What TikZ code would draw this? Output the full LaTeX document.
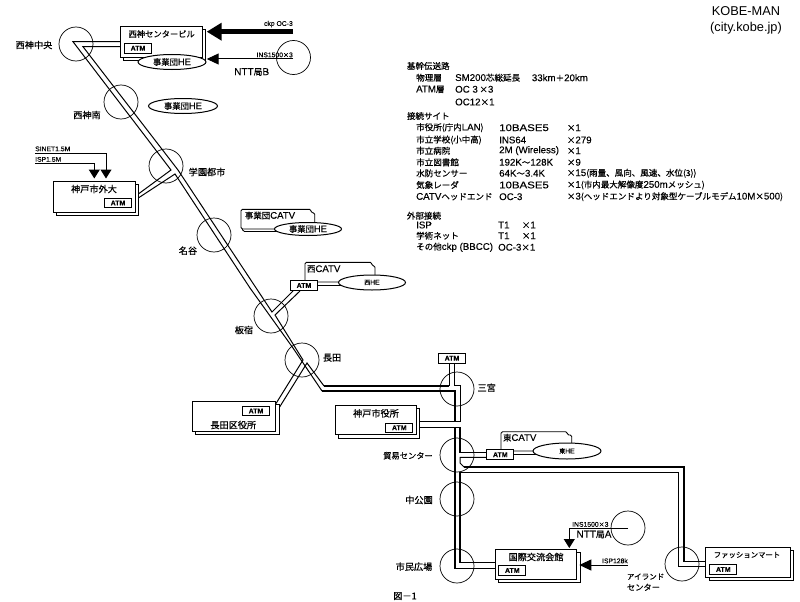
\documentclass[tikz,border=0pt]{standalone}
\usepackage{fontspec}
\setmainfont[FakeBold=0.2]{Liberation Sans}
\newfontfamily\titlefont{Liberation Sans}
\newfontfamily\jpfont[Scale=0.88,FakeBold=0.45]{Noto Sans CJK JP}
\newcommand{\J}[1]{{\jpfont #1}}
\newcommand{\W}[1]{{\addfontfeature{FakeStretch=1.18}#1}}
\usetikzlibrary{arrows.meta,shadows,shapes.geometric}
\tikzset{
  hub/.style={circle,draw,line width=0.7pt,minimum size=34pt,inner sep=0pt},
  sitebox/.style={draw,line width=1pt,fill=white,inner sep=0pt,
    copy shadow={shadow xshift=3pt,shadow yshift=-3pt,fill=white,draw=black,line width=0.9pt}},
  atmbox/.style={draw,line width=1pt,fill=white,inner sep=0pt,minimum width=27pt,minimum height=9.5pt,
    font=\fontsize{7}{8}\selectfont\bfseries},
  headend/.style={ellipse,draw,line width=1pt,fill=white,inner sep=0pt},
  label/.style={inner sep=0pt,font=\fontsize{10.4}{11}\selectfont},
  kana/.style={inner sep=0pt,font=\fontsize{9.4}{10}\selectfont},
  tiny/.style={inner sep=0pt,font=\fontsize{6.8}{7}\selectfont},
  tabtext/.style={inner sep=0pt,font=\fontsize{9.6}{11}\selectfont},
  trunk/.style={line width=1pt,line join=miter},
  heavy/.style={line width=1.5pt,line join=miter},
  feed/.style={line width=1pt},
  catv/.style={draw,line width=0.9pt,fill=white,rounded corners=1.5pt},
  info/.style={anchor=west,inner sep=0pt,font=\fontsize{9.7}{10}\selectfont},
  bighead/.style={-{Triangle[length=15pt,width=17pt]},line width=5pt},
  midhead/.style={-{Triangle[length=12pt,width=11pt]},line width=1pt},
  downhead/.style={-{Triangle[length=9pt,width=11pt]},line width=1pt}
}
\begin{document}
\begin{tikzpicture}[x=1pt,y=-1pt]
\useasboundingbox (0,0) rectangle (800,602);

% Ring stations
\node[hub] (nishikobe) at (76,44) {};
\node[hub] (seishinminami) at (121,102) {};
\node[hub] (gakuen) at (166,166) {};
\node[hub] (myodani) at (214,235) {};
\node[hub] (itayado) at (271,316) {};
\node[hub] (nagata) at (302,360) {};
\node[hub] (sannomiya) at (457,389) {};
\node[hub] (boeki) at (457,455) {};
\node[hub] (chuko) at (457,499) {};
\node[hub] (shimin) at (457,566) {};
\node[hub] (island) at (682,564) {};
\node[hub] (nttb) at (293.5,57.5) {};
\node[hub] (ntta) at (628,528) {};

% Bend points of the backbone and its branches
\coordinate (la) at (120,41.7);  \coordinate (lb) at (73,41.7);
\coordinate (lc) at (171,170);   \coordinate (ld) at (138.3,194);
\coordinate (le) at (138.3,198); \coordinate (lf) at (175,174);
\coordinate (lg) at (250,288);   \coordinate (lh) at (293,348);
\coordinate (li) at (322,391);   \coordinate (lj) at (455,391);
\coordinate (lk) at (455,421.7);
\coordinate (ra) at (120,46.7);  \coordinate (rb) at (83,46.7);
\coordinate (rc) at (178,170);   \coordinate (rd) at (272,312);
\coordinate (re) at (293,291);   \coordinate (rf) at (300,291);
\coordinate (rg) at (275,315);   \coordinate (rh) at (303,360);
\coordinate (ri) at (276,403.5); \coordinate (rj) at (279,408);
\coordinate (rk) at (307,363);   \coordinate (rl) at (324,386);
\coordinate (rm) at (449,386);   \coordinate (rn) at (449,363);
\coordinate (sa) at (454,363);   \coordinate (sb) at (454,385);
\coordinate (sc) at (460,385);   \coordinate (sd) at (460,421.7);
\coordinate (se) at (420,421.7);
\coordinate (ta) at (420,427.3); \coordinate (tb) at (460,427.3);
\coordinate (tc) at (460,452.3); \coordinate (td) at (487,452.3);
\coordinate (te) at (487,457.3); \coordinate (tf) at (460,457.3);
\coordinate (tg) at (460,463);   \coordinate (th) at (464,467);
\coordinate (ti) at (684,467);   \coordinate (tj) at (684,561.7);
\coordinate (tk) at (706,561.7);
\coordinate (ua) at (706,566.7); \coordinate (ub) at (678.3,566.7);
\coordinate (uc) at (678.3,472.3); \coordinate (ud) at (460,472.3);
\coordinate (ue) at (460,562.7); \coordinate (uf) at (495.7,562.7);
\coordinate (va) at (455,427.3); \coordinate (vb) at (455,568.3);
\coordinate (vc) at (495.7,568.3);
\coordinate (wa) at (317.3,281.7); \coordinate (wb) at (342,281.7);
\coordinate (wc) at (317.3,285.7); \coordinate (wd) at (342,285.7);
\coordinate (xa) at (514,454.3);   \coordinate (xb) at (536,454.3);

% Backbone
\draw[trunk] (la) -- (lb) -- (lc) -- (ld);
\draw[trunk] (le) -- (lf) -- (lg) -- (lh) -- (li);
\draw[heavy] (li) -- (lj) -- (lk);
\draw[trunk] (ra) -- (rb) -- (rc) -- (rd) -- (re);
\draw[trunk] (rf) -- (rg) -- (rh) -- (ri);
\draw[trunk] (rj) -- (rk) -- (rl);
\draw[heavy] (rl) -- (rm);
\draw[trunk] (rm) -- (rn);
\draw[trunk] (sa) -- (sb) -- (sc) -- (sd) -- (se);
\draw[heavy] (ta) -- (tb) -- (tc) -- (td);
\draw[trunk] (te) -- (tf) -- (tg) -- (th);
\draw[heavy] (th) -- (ti) -- (tj) -- (tk);
\draw[heavy] (ua) -- (ub) -- (uc) -- (ud) -- (ue) -- (uf);
\draw[heavy] (va) -- (vb) -- (vc);
\draw[feed] (wa) -- (wb);
\draw[feed] (wc) -- (wd);
\draw[feed] (xa) -- (xb);

% Cable television tabs, drawn behind their head-ends
\draw[line width=0.8pt,rounded corners=1.5pt] (242,228) -- (243,231.5) -- (285,231.5);
\draw[catv] (241,209.3) -- (311,209.3) -- (311,212.7) -- (314.7,212.7) -- (314.7,229) -- (241,229) -- cycle;
\draw[catv] (305,262.3) -- (371.7,262.3) -- (371.7,265.7) -- (375,265.7) -- (375,282) -- (305,282) -- cycle;
\draw[catv] (501,431.7) -- (567.3,431.7) -- (567.3,435) -- (571.7,435) -- (571.7,451) -- (501,451) -- cycle;
\node[tabtext] (tabjig) at (270,215.5) {\J{事業団}CATV};
\node[tabtext] (tabwest) at (323.7,269) {\J{西}CATV};
\node[tabtext] (tabeast) at (519.7,437.7) {\J{東}CATV};

% Sites
\node[sitebox,minimum width=82pt,minimum height=31.3pt] (center) at (161.7,42.3) {};
\node[sitebox,minimum width=82pt,minimum height=31pt] (gaidai) at (94,197.2) {};
\node[sitebox,minimum width=83.3pt,minimum height=30pt] (kuyakusho) at (234.3,416.7) {};
\node[sitebox,minimum width=81pt,minimum height=29.3pt] (shiyakusho) at (376.2,420.3) {};
\node[sitebox,minimum width=81.3pt,minimum height=30pt] (kokusai) at (536.3,564) {};
\node[sitebox,minimum width=84.7pt,minimum height=30pt] (fashion) at (748.3,562.7) {};

\node[kana] (t1) at (161.7,34) {\J{西神センタービル}};
\node[label] (t2) at (94,189) {\J{神戸市外大}};
\node[label] (t3) at (233.3,425) {\J{長田区役所}};
\node[label] (t4) at (376,413.3) {\J{神戸市役所}};
\node[label] (t5) at (536,557) {\J{国際交流会館}};
\node[kana,font=\fontsize{8.4}{9}\selectfont] (t6) at (747,555) {\J{ファッションマート}};

% ATM switches
\node[atmbox] (a1) at (138,48.3) {ATM};
\node[atmbox] (a2) at (118,203) {ATM};
\node[atmbox] (a3) at (256,411) {ATM};
\node[atmbox] (a4) at (399.3,427.8) {ATM};
\node[atmbox] (a5) at (512.3,570.5) {ATM};
\node[atmbox] (a6) at (723.3,569.5) {ATM};
\node[atmbox] (a7) at (452,358.3) {ATM};
\node[atmbox] (a8) at (304,285.5) {ATM};
\node[atmbox] (a9) at (500.3,454.7) {ATM};

% Head-ends
\node[headend,minimum width=68pt,minimum height=15pt,font=\fontsize{9.4}{10}\selectfont] (he1) at (172,62) {\J{事業団}HE};
\node[headend,minimum width=69pt,minimum height=15pt,font=\fontsize{9.4}{10}\selectfont] (he2) at (183,106) {\J{事業団}HE};
\node[headend,minimum width=67pt,minimum height=13pt,font=\fontsize{9.4}{10}\selectfont] (he3) at (308,229) {\J{事業団}HE};
\node[headend,minimum width=67pt,minimum height=15pt,font=\fontsize{6.8}{7}\selectfont] (he4) at (372,282.5) {\J{西}HE};
\node[headend,minimum width=68pt,minimum height=16pt,font=\fontsize{6.8}{7}\selectfont] (he5) at (567,451) {\J{東}HE};

% Outside circuits
\coordinate (ckp) at (293,31.7);
\coordinate (ckptip) at (206.7,31.7);
\draw[bighead] (ckp) -- (ckptip);
\coordinate (insb) at (293,59);
\coordinate (insbtip) at (206.7,59);
\draw[midhead] (insb) -- (insbtip);
\coordinate (sinet) at (35,153);
\coordinate (sinetbend) at (106,153);
\coordinate (sinettip) at (106,178.5);
\draw[downhead] (sinet) -- (sinetbend) -- (sinettip);
\coordinate (isp) at (35,163.5);
\coordinate (ispbend) at (94.3,163.5);
\coordinate (isptip) at (94.3,178.5);
\draw[downhead] (isp) -- (ispbend) -- (isptip);
\coordinate (insa) at (628,528.3);
\coordinate (insabend) at (569.3,528.3);
\coordinate (insatip) at (569.3,548);
\draw[downhead] (insa) -- (insabend) -- (insatip);
\coordinate (ispk) at (628,565);
\coordinate (ispktip) at (579.3,565);
\draw[midhead] (ispk) -- (ispktip);

\node[tiny,anchor=south east] (lckp) at (293,27.5) {ckp OC-3};
\node[tiny,anchor=south east] (linsb) at (293,57.5) {INS1500\J{×}3};
\node[tiny,anchor=south west] (lsinet) at (35,151.5) {SINET1.5M};
\node[tiny,anchor=south west] (lisp) at (35,162) {ISP1.5M};
\node[tiny,anchor=south west] (linsa) at (572,527) {INS1500\J{×}3};
\node[tiny,anchor=south east] (lispk) at (628,563.5) {ISP128k};

% Place names
\node[label] (n1) at (34,45) {\J{西神中央}};
\node[label] (n2) at (87,115) {\J{西神南}};
\node[label] (n3) at (207,172) {\J{学園都市}};
\node[label] (n4) at (188,250.7) {\J{名谷}};
\node[label] (n5) at (244,330) {\J{板宿}};
\node[label] (n6) at (332,357.7) {\J{長田}};
\node[label] (n7) at (486.7,387.7) {\J{三宮}};
\node[kana] (n8) at (408,455.7) {\J{貿易センター}};
\node[label] (n9) at (419,500) {\J{中公園}};
\node[label] (n10) at (414,566.7) {\J{市民広場}};
\node[kana,anchor=west,font=\fontsize{8.6}{9}\selectfont] (n11) at (626.7,576.7) {\J{アイランド}};
\node[kana,anchor=west] (n12) at (626.7,587.3) {\J{センター}};
\node[label,font=\fontsize{10}{11}\selectfont] (n13) at (251.7,72) {NTT\J{局}B};
\node[label,font=\fontsize{10}{11}\selectfont] (n14) at (594,534.5) {NTT\J{局}A};
\node[label] (fig) at (405,596) {\J{図－1}};

% Title
\node[inner sep=0pt,font=\fontsize{12.8}{14}\titlefont] (title1) at (746,10.7) {KOBE-MAN};
\node[inner sep=0pt,font=\fontsize{12.8}{14}\titlefont] (title2) at (746,28) {(city.kobe.jp)};

% Summary table
\node[info] (i1) at (406.7,66) {\J{基幹伝送路}};
\node[info] (i2) at (416,77.7) {\J{物理層}};
\node[info] (i3) at (455,77.7) {SM200\J{芯総延長}};
\node[info] (i4) at (531.7,77.7) {33km\J{＋}20km};
\node[info] (i5) at (416,89.3) {ATM\J{層}};
\node[info] (i6) at (455,89.3) {OC 3\,\J{×}3};
\node[info] (i7) at (455,102) {OC12\J{×}1};
\node[info] (i8) at (406.7,116) {\J{接続サイト}};
\node[info] (i9) at (416,127.7) {\J{市役所(庁内}LAN\J{)}};
\node[info] (i10) at (499,127.7) {\W{10BASE5}};
\node[info] (i11) at (566.7,127.7) {\J{×}1};
\node[info] (i12) at (416,140) {\J{市立学校(小中高)}};
\node[info] (i13) at (499,140) {INS64};
\node[info] (i14) at (566.7,140) {\J{×}279};
\node[info] (i15) at (416,150.7) {\J{市立病院}};
\node[info] (i16) at (499,150.7) {2M (Wireless)};
\node[info] (i17) at (566.7,150.7) {\J{×}1};
\node[info] (i18) at (416,162.3) {\J{市立図書館}};
\node[info] (i19) at (499,162.3) {192K\J{～}128K};
\node[info] (i20) at (566.7,162.3) {\J{×}9};
\node[info] (i21) at (416,173.3) {\J{水防センサー}};
\node[info] (i22) at (499,173.3) {64K\J{～}3.4K};
\node[info] (i23) at (566.7,173.3) {\J{×}15\J{(雨量、風向、風速、水位(3))}};
\node[info] (i24) at (416,185) {\J{気象レーダ}};
\node[info] (i25) at (499,185) {\W{10BASE5}};
\node[info] (i26) at (566.7,185) {\J{×}1\J{(市内最大解像度}250m\J{メッシュ)}};
\node[info] (i27) at (416,196.7) {CATV\J{ヘッドエンド}};
\node[info] (i28) at (499,196.7) {OC-3};
\node[info] (i29) at (566.7,196.7) {\J{×}3\J{(ヘッドエンドより対象型ケーブルモデム}10M\J{×}500\J{)}};
\node[info] (i30) at (406.7,215.7) {\J{外部接続}};
\node[info] (i31) at (416,225) {ISP};
\node[info] (i32) at (498,225) {T1};
\node[info] (i33) at (521.7,225) {\J{×}1};
\node[info] (i34) at (416,235.7) {\J{学術ネット}};
\node[info] (i35) at (498,235.7) {T1};
\node[info] (i36) at (521.7,235.7) {\J{×}1};
\node[info] (i37) at (416,247.3) {\J{その他}ckp (BBCC)};
\node[info] (i38) at (498,247.3) {OC-3\J{×}1};
\end{tikzpicture}
\end{document}
